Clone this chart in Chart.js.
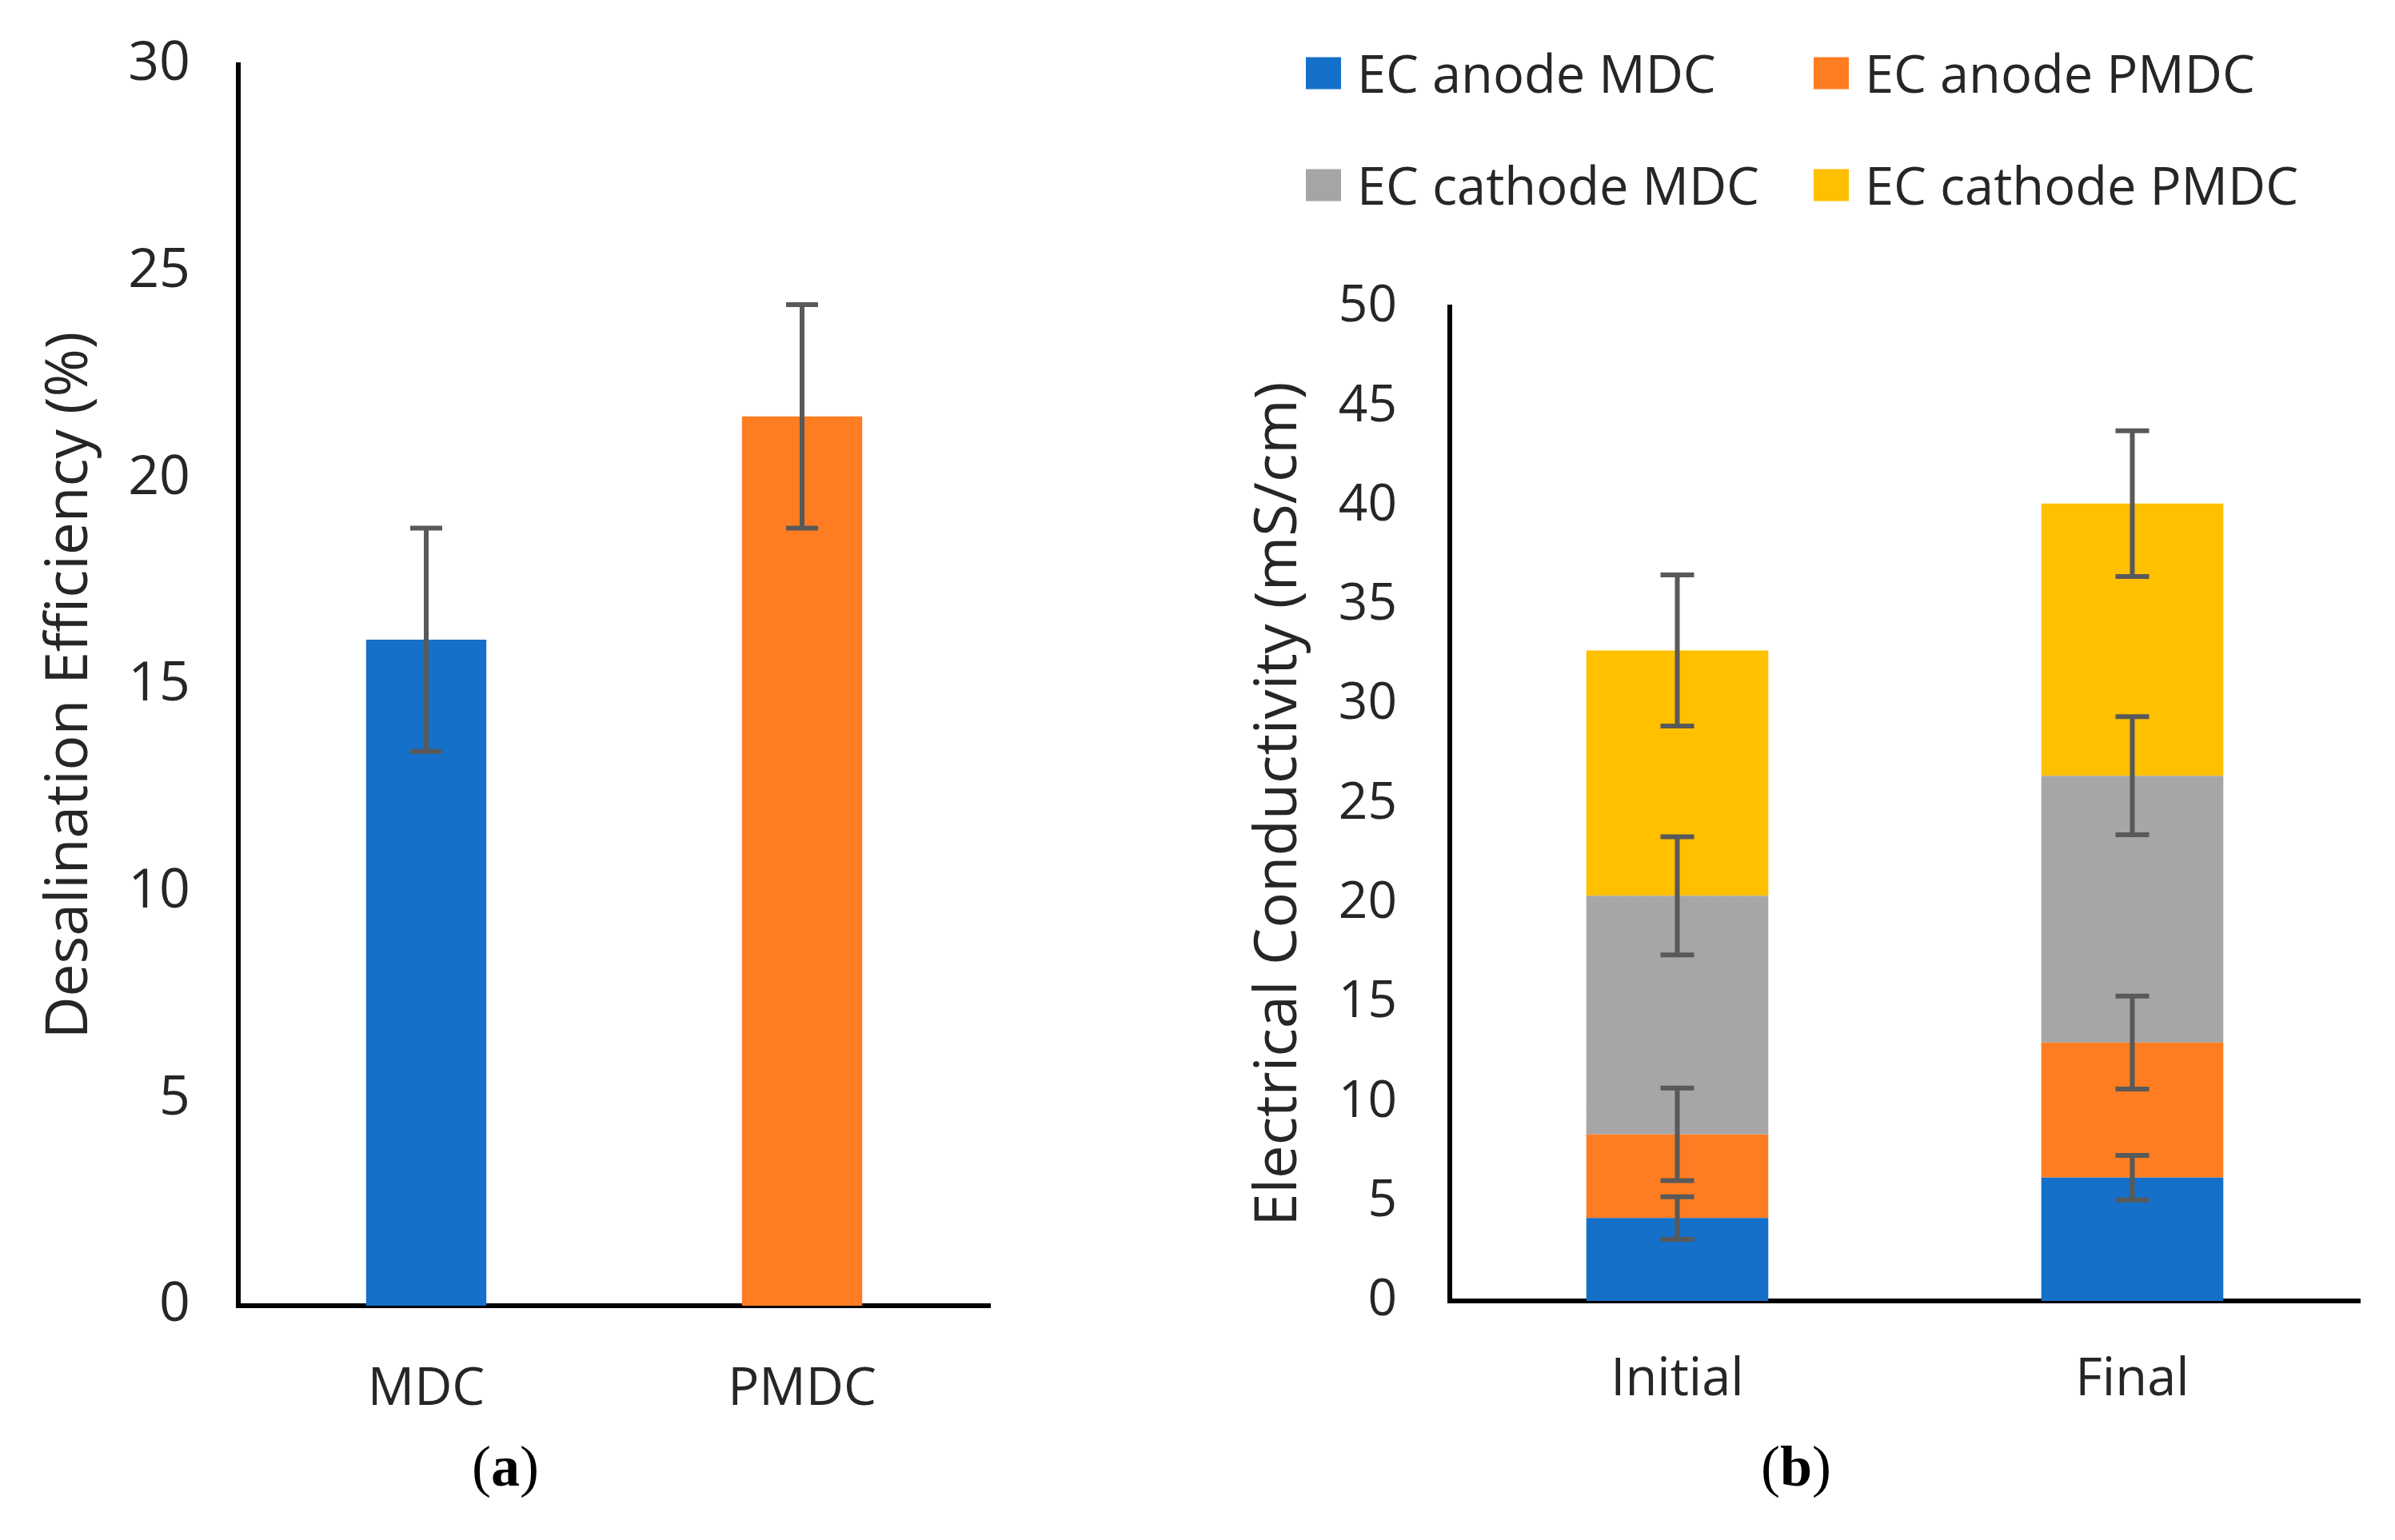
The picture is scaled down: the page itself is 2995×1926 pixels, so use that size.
<!DOCTYPE html>
<html>
<head>
<meta charset="utf-8">
<title>Desalination efficiency and electrical conductivity</title>
<script src="https://cdn.jsdelivr.net/npm/chart.js"></script>
<style>
  html, body { margin: 0; padding: 0; background: #fff; }
  #page { position: relative; width: 2995px; height: 1926px; overflow: hidden; font-family: 'Open Sans', sans-serif; color: #262626; }
  canvas { position: absolute; top: 0; }
  #chartA { left: 0; }
  #chartB { left: 1450px; }
  .panel { position: absolute; top: 1834px; font-family: 'Liberation Serif', serif; font-size: 72px; transform: translate(-50%, -50%); color: #000; }
  .legend-item { position: absolute; display: flex; align-items: center; font-size: 65px; line-height: 1; white-space: nowrap; transform: translateY(-50%); }
  .legend-item .box { width: 44px; height: 40px; margin-right: 20px; }
</style>
</head>
<body>
<div id="page">
  <canvas id="chartA" width="1400" height="1800"></canvas>
  <canvas id="chartB" width="1545" height="1800"></canvas>
  <div id="legend"></div>
  <div class="panel" style="left:632px">(<b>a</b>)</div>
  <div class="panel" style="left:2246px">(<b>b</b>)</div>
</div>

<script>
    // (a) desalination efficiency
    const effCategories = ['MDC', 'PMDC'];
    const effValues = [16.1, 21.5];
    const effErrors = [2.7, 2.7];
    const effColors = ['#1570c9', '#fe7d22'];

    // (b) electrical conductivity, stacked
    const ecCategories = ['Initial', 'Final'];
    const ecSeries = ['EC anode MDC', 'EC anode PMDC', 'EC cathode MDC', 'EC cathode PMDC'];
    const anodeMDC = [4.17, 6.2];
    const anodePMDC = [4.21, 6.8];
    const cathodeMDC = [12.0, 13.42];
    const cathodePMDC = [12.34, 13.69];
    const anodeMDCErr = [1.07, 1.12];
    const anodePMDCErr = [2.33, 2.34];
    const cathodeMDCErr = [2.97, 2.97];
    const cathodePMDCErr = [3.8, 3.67];
    const ecColors = ['#1570c9', '#fe7d22', '#a5a5a5', '#ffc000'];

    const textColor = '#262626';
    Chart.defaults.font.family = "'Open Sans', sans-serif";
    Chart.defaults.color = textColor;

    function greyPattern() {
        const c = document.createElement('canvas');
        c.width = 4; c.height = 4;
        const g = c.getContext('2d');
        g.fillStyle = '#a8a8a8';
        g.fillRect(0, 0, 4, 4);
        g.fillStyle = '#9c9c9c';
        g.fillRect(0, 0, 1, 1);
        g.fillRect(2, 2, 1, 1);
        return g.createPattern(c, 'repeat');
    }

    const errorBars = {
        id: 'errorBars',
        afterDatasetsDraw(chart, args, opts) {
            const ctx = chart.ctx;
            const y = chart.scales.y;
            const stacked = chart.options.scales.y.stacked;
            ctx.save();
            ctx.strokeStyle = '#595959';
            ctx.lineWidth = opts.width;
            chart.data.datasets.forEach((ds, di) => {
                const meta = chart.getDatasetMeta(di);
                meta.data.forEach((bar, i) => {
                    let base = 0;
                    if (stacked) {
                        for (let k = 0; k < di; k++) base += chart.data.datasets[k].data[i];
                    }
                    const top = base + ds.data[i];
                    const e = ds.errors[i];
                    const y1 = y.getPixelForValue(top + e);
                    const y2 = y.getPixelForValue(top - e);
                    const half = opts.cap / 2;
                    ctx.beginPath();
                    ctx.moveTo(bar.x, y1);
                    ctx.lineTo(bar.x, y2);
                    ctx.moveTo(bar.x - half, y1);
                    ctx.lineTo(bar.x + half, y1);
                    ctx.moveTo(bar.x - half, y2);
                    ctx.lineTo(bar.x + half, y2);
                    ctx.stroke();
                });
            });
            ctx.restore();
        }
    };

    function axes(yMax, yWidth, yTitle, titleSize, titlePad, tickPadY, tickPadX, yFont) {
        return {
            x: {
                grid: { display: false, drawTicks: false },
                border: { display: true, color: '#000', width: 6 },
                ticks: { padding: tickPadX, color: textColor, font: { size: 65 } },
                afterFit: s => { s.height = 130; }
            },
            y: {
                min: 0,
                max: yMax,
                grid: { display: false, drawTicks: false },
                border: { display: true, color: '#000', width: 6 },
                ticks: { stepSize: 5, padding: tickPadY, color: textColor, font: { size: yFont } },
                title: { display: true, text: yTitle, color: textColor, font: { size: titleSize }, padding: { top: titlePad, bottom: 0 } },
                afterFit: s => {
                    s.width = yWidth;
                    // tick padding is horizontal here; keep it out of the top/bottom margins
                    s.paddingTop = 40;
                    s.paddingBottom = 40;
                }
            }
        };
    }

    new Chart(document.getElementById('chartA'), {
        type: 'bar',
        data: {
            labels: effCategories,
            datasets: [{
                label: 'Desalination Efficiency',
                data: effValues,
                errors: effErrors,
                backgroundColor: effColors,
                borderWidth: 0,
                categoryPercentage: 1,
                barPercentage: 0.32
            }]
        },
        options: {
            responsive: false,
            animation: false,
            devicePixelRatio: 1,
            layout: { padding: { left: 0, top: 81, right: 162, bottom: 37 } },
            plugins: { legend: { display: false }, tooltip: { enabled: false }, errorBars: { width: 6, cap: 40 } },
            scales: axes(30, 298, 'Desalination Efficiency (%)', 73, 44, 60, 66, 68)
        },
        plugins: [errorBars]
    });

    const ecData = [anodeMDC, anodePMDC, cathodeMDC, cathodePMDC];
    const ecErrs = [anodeMDCErr, anodePMDCErr, cathodeMDCErr, cathodePMDCErr];
    const grey = greyPattern();

    const scalesB = axes(50, 363, 'Electrical Conductivity (mS/cm)', 74, 106, 66, 60, 64);
    scalesB.x.stacked = true;
    scalesB.y.stacked = true;

    new Chart(document.getElementById('chartB'), {
        type: 'bar',
        data: {
            labels: ecCategories,
            datasets: ecSeries.map((name, i) => ({
                label: name,
                data: ecData[i],
                errors: ecErrs[i],
                backgroundColor: i === 2 ? grey : ecColors[i],
                borderWidth: 0,
                categoryPercentage: 1,
                barPercentage: 0.4
            }))
        },
        options: {
            responsive: false,
            animation: false,
            devicePixelRatio: 1,
            layout: { padding: { left: 0, top: 384, right: 44, bottom: 43 } },
            plugins: { legend: { display: false }, tooltip: { enabled: false }, errorBars: { width: 6, cap: 42 } },
            scales: scalesB
        },
        plugins: [errorBars]
    });

    // legend, 2 x 2 above panel (b)
    const legend = document.getElementById('legend');
    const legendX = [1633, 2268];
    const legendY = [91, 231];
    ecSeries.forEach((name, i) => {
        const item = document.createElement('div');
        item.className = 'legend-item';
        item.style.left = legendX[i % 2] + 'px';
        item.style.top = legendY[Math.floor(i / 2)] + 'px';
        item.innerHTML = `<span class="box" style="background:${ecColors[i]}"></span><span>${name}</span>`;
        legend.append(item);
    });
</script>
</body>
</html>
